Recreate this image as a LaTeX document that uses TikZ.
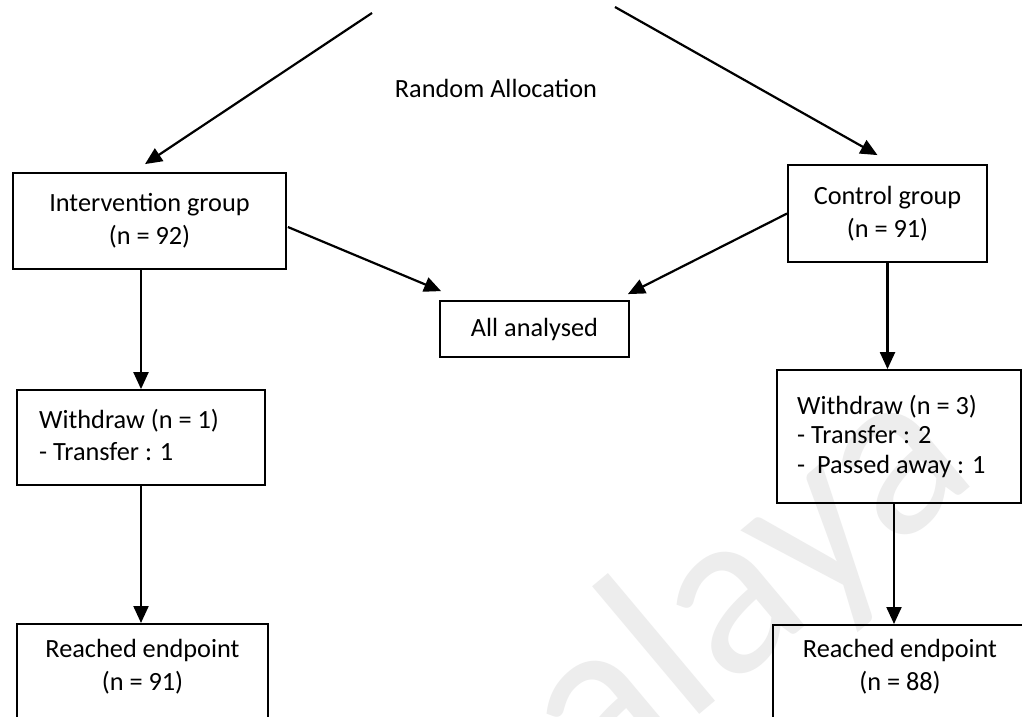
\documentclass[tikz,border=0pt]{standalone}
\usepackage{fontspec}
\setmainfont{Carlito}
\usetikzlibrary{arrows.meta,calc}
\newcommand{\mytxt}{\fontsize{26.3}{33}\selectfont}
\begin{document}
\begin{tikzpicture}[x=1pt,y=-1pt,
  box/.style={draw,line width=1.8pt,inner sep=0pt,align=center,font=\mytxt},
  txt/.style={inner sep=0pt,align=center,font=\mytxt},
  ltxt/.style={inner sep=0pt,align=left,anchor=west},
  arr/.style={line width=2.2pt,-{Triangle[length=17pt,width=15pt]}},
  wmark/.style={inner sep=0pt,text=black!7,font=\fontsize{240}{240}\selectfont}]
\clip (0,0) rectangle (1022,717);
\fill[white] (0,0) rectangle (1022,717);
% watermark
\node[wmark,rotate=40,anchor=base west] (wm) at (598,800) {alaya};
% title
\node[txt] (rand) at (496,88) {Random Allocation};
% boxes
\node[box,minimum width=273pt,minimum height=96pt] (interv) at (149.5,221) {Intervention group\\(n = 92)};
\node[box,minimum width=199pt,minimum height=97pt] (ctrl) at (887.5,213.5) {Control group\\(n = 91)};
\node[box,minimum width=189pt,minimum height=56pt] (all) at (534.5,329) {All analysed};
\node[box,minimum width=248pt,minimum height=95pt] (wdL) at (141,437.5) {};
\node[ltxt,font=\fontsize{26.3}{32}\selectfont] (wdLt) at (39,435) {Withdraw (n = 1)\\- Transfer : 1};
\node[box,minimum width=244pt,minimum height=133pt] (wdR) at (899,436.5) {};
\node[ltxt,font=\fontsize{26.3}{29.5}\selectfont] (wdRt) at (797,436) {Withdraw (n = 3)\\- Transfer : 2\\-\ \ Passed away : 1};
\node[box,minimum width=251pt,minimum height=160pt,anchor=north] (reachL) at (142.5,623) {};
\node[txt] (reachLt) at (142.5,667) {Reached endpoint\\(n = 91)};
\node[box,minimum width=300pt,minimum height=160pt,anchor=north west] (reachR) at (772,624) {};
\node[txt] (reachRt) at (900,667) {Reached endpoint\\(n = 88)};
% top free ends
\coordinate (tl) at (372,13);
\coordinate (tr) at (615,7);
% connectors
\draw[arr] (tl) -- ($(interv.north)+(-4.5,-8)$);
\draw[arr] (tr) -- ($(ctrl.north)+(-10,-9)$);
\draw[arr] ($(interv.east)+(1,6)$) -- ($(all.north west)+(2,-9)$);
\draw[arr] (ctrl.west) -- ($(all.north east)+(-2,-6)$);
\draw[arr] (interv.south -| wdL) -- (wdL.north);
\draw[arr] (wdL.south) -- (wdL.south |- reachL.north);
\draw[arr] (ctrl.south) -- (ctrl.south |- wdR.north);
\coordinate (wdRs) at ($(wdR.south)+(-5,0)$);
\draw[arr] (wdRs) -- (wdRs |- reachR.north);
\end{tikzpicture}
\end{document}
